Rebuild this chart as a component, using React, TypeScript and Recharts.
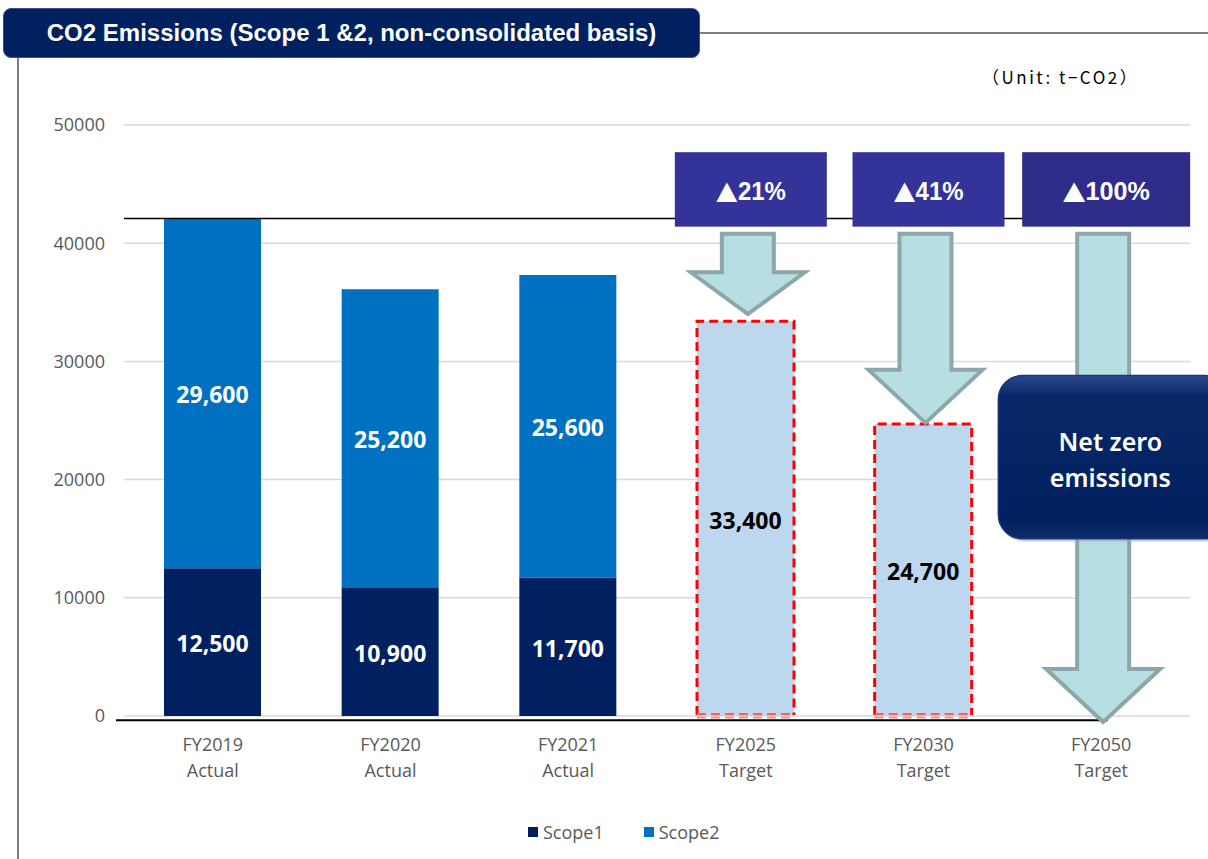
import React from 'react';
import {
  BarChart,
  Bar,
  XAxis,
  YAxis,
  CartesianGrid,
  ReferenceLine,
  ReferenceArea,
  LabelList,
} from 'recharts';

// ---------------- data ----------------
const categories = ['FY2019', 'FY2020', 'FY2021', 'FY2025', 'FY2030', 'FY2050'];
const categoryKinds = ['Actual', 'Actual', 'Actual', 'Target', 'Target', 'Target'];
const scope1Values = [12500, 10900, 11700, null, null, null];
const scope2Values = [29600, 25200, 25600, null, null, null];
const targetValues = [null, null, null, 33400, 24700, null];
const yTicks = [0, 10000, 20000, 30000, 40000, 50000];
const baselineValue = 42100;
const axisLineValue = -350;
const reductionCategories = ['FY2025', 'FY2030', 'FY2050'];
const reductionPercents = ['21%', '41%', '100%'];
const arrowStartValue = 40800;
const arrowTipValues = [34000, 24800, -500];
const tagRange = [41400, 47700];
const netZeroCategory = 'FY2050';
const netZeroRange = [15000, 28800];
const netZeroLines = ['Net zero', 'emissions'];
const seriesNames = ['Scope1', 'Scope2'];
const seriesColors = ['#002060', '#0070C0'];
const titleText = 'CO2 Emissions (Scope 1 &2, non-consolidated basis)';
const unitText = '（Unit: t−CO2）';

const data = categories.map((name, i) => ({
  name,
  kind: categoryKinds[i],
  scope1: scope1Values[i],
  scope2: scope2Values[i],
  target: targetValues[i],
}));

// ---------------- styles ----------------
const FONT = "'Open Sans', 'Noto Sans', sans-serif";
const GRAY_TEXT = '#595959';
const tagWidths = [152, 152, 168];

const fmt = (v: number) => v.toLocaleString('en-US');

const XTick = (props: any) => {
  const { x, y, payload } = props;
  const i = categories.indexOf(payload.value);
  return (
    <text x={x} y={y} textAnchor="middle" fill={GRAY_TEXT} fontSize={18} fontFamily={FONT}>
      <tspan x={x} dy={27}>{payload.value}</tspan>
      <tspan x={x} dy={26}>{categoryKinds[i]}</tspan>
    </text>
  );
};

const makeLabel = (color: string) => (props: any) => {
  const vb = props.viewBox || props;
  const x = vb.x ?? props.x;
  const y = vb.y ?? props.y;
  const w = vb.width ?? props.width;
  const h = vb.height ?? props.height;
  const v = props.value;
  if (v == null || v === 0) return null;
  return (
    <text
      x={x + w / 2}
      y={y + h / 2 + 1}
      textAnchor="middle"
      dominantBaseline="central"
      fill={color}
      fontSize={23}
      fontWeight={700}
      fontFamily={FONT}
    >
      {fmt(v)}
    </text>
  );
};

const TargetShape = (props: any) => {
  const { x, y, width, height } = props;
  if (!height || height <= 0) return null;
  const b = y + height;
  return (
    <g>
      <rect x={x} y={y} width={width} height={height} fill="#BDD7EE" />
      <path
        d={`M${x},${b - 1} V${y} H${x + width} V${b - 1}`}
        fill="none"
        stroke="#FF0000"
        strokeWidth={3}
        strokeDasharray="9 5"
      />
      <line x1={x} y1={b - 2} x2={x + width} y2={b - 2} stroke="#FF5C5C" strokeWidth={2} strokeDasharray="9 5" />
      <line x1={x} y1={b + 1.5} x2={x + width} y2={b + 1.5} stroke="#FF8F8F" strokeWidth={2} strokeDasharray="9 5" />
    </g>
  );
};

const ArrowShape = (props: any) => {
  const { x, y, width, height } = props;
  const cx = x + width / 2 + 2;
  const shaftW = 52;
  const headW = 114;
  const headH = Math.min(53, height * 0.52);
  const top = y;
  const tip = y + height;
  const neck = tip - headH;
  const d = `M${cx - shaftW / 2},${top} H${cx + shaftW / 2} V${neck} H${cx + headW / 2} L${cx},${tip} L${cx - headW / 2},${neck} H${cx - shaftW / 2} Z`;
  return <path d={d} fill="#B7DFE2" stroke="#8BA7A9" strokeWidth={4} strokeLinejoin="miter" />;
};

const TagShape = (props: any) => {
  const { x, y, width, height, pct, tagW, idx } = props;
  const cx = x + width / 2 + 5;
  const len = (pct.length + 1) * 17.5;
  return (
    <g>
      <rect x={cx - tagW / 2} y={y} width={tagW} height={height} fill={idx === 2 ? '#2E2E8A' : '#343399'} />
      <text
        x={cx}
        y={y + height / 2 + 2}
        textAnchor="middle"
        dominantBaseline="central"
        fill="#FFFFFF"
        fontSize={26}
        fontWeight={700}
        fontFamily="'Liberation Sans', sans-serif"
        textLength={len}
        lengthAdjust="spacingAndGlyphs"
      >
        <tspan fontFamily="'Noto Sans CJK JP', sans-serif" fontSize={24}>▲</tspan>
        <tspan>{pct}</tspan>
      </text>
    </g>
  );
};

const NetZeroShape = (props: any) => {
  const { x, y, height } = props;
  const bx = x - 14;
  const bw = 230;
  const cx = bx + 112;
  return (
    <g>
      <defs>
        <linearGradient id="nzGrad" x1="0" y1="0" x2="0" y2="1">
          <stop offset="0" stopColor="#2A4A8E" />
          <stop offset="0.12" stopColor="#0A2868" />
          <stop offset="0.88" stopColor="#002060" />
          <stop offset="1" stopColor="#0E2C6C" />
        </linearGradient>
      </defs>
      <rect x={bx + 2} y={y + 3} width={bw} height={height} rx={24} ry={24} fill="#9AA6BE" opacity={0.5} />
      <rect x={bx} y={y} width={bw} height={height} rx={24} ry={24} fill="url(#nzGrad)" stroke="#1A3676" strokeWidth={1.5} />
      <text
        x={cx}
        y={y + height / 2 - 16}
        textAnchor="middle"
        dominantBaseline="central"
        fill="#FFFFFF"
        fontSize={25}
        fontWeight={600}
        fontFamily="'Noto Sans', sans-serif"
      >
        {netZeroLines[0]}
      </text>
      <text
        x={cx}
        y={y + height / 2 + 20}
        textAnchor="middle"
        dominantBaseline="central"
        fill="#FFFFFF"
        fontSize={25}
        fontWeight={600}
        fontFamily="'Noto Sans', sans-serif"
      >
        {netZeroLines[1]}
      </text>
    </g>
  );
};

const AxisBaseLine = (props: any) => {
  const { x1, y1, x2, y2 } = props;
  return <line x1={x1 - 8} y1={y1} x2={x2 - 82} y2={y2} stroke="#000000" strokeWidth={2} />;
};

export default function App() {
  return (
    <div
      style={{
        position: 'absolute',
        left: 0,
        top: 0,
        width: 1208,
        height: 859,
        background: '#FFFFFF',
        overflow: 'hidden',
        fontFamily: FONT,
      }}
    >
      {/* frame lines */}
      <div style={{ position: 'absolute', left: 17, top: 56, width: 2, height: 803, background: '#7F7F7F' }} />
      <div style={{ position: 'absolute', left: 698, top: 32, width: 510, height: 2, background: '#7F7F7F' }} />
      {/* title */}
      <div
        style={{
          position: 'absolute',
          left: 3,
          top: 8,
          width: 697,
          height: 50,
          boxSizing: 'border-box',
          background: '#002060',
          border: '1.5px solid #3C4F8A',
          borderRadius: 8,
          color: '#FFFFFF',
          fontFamily: "'Liberation Sans', Arial, sans-serif",
          fontWeight: 700,
          fontSize: 24,
          lineHeight: '48px',
          textAlign: 'center',
          whiteSpace: 'nowrap',
          zIndex: 2,
        }}
      >
        {titleText}
      </div>
      {/* unit */}
      <div
        style={{
          position: 'absolute',
          left: 982,
          top: 64,
          fontFamily: "'Noto Sans CJK JP', sans-serif",
          fontSize: 17,
          letterSpacing: 2.5,
          color: '#000000',
          whiteSpace: 'nowrap',
        }}
      >
        {unitText}
      </div>

      <BarChart
        width={1208}
        height={859}
        data={data}
        margin={{ top: 125, right: 18, bottom: 103, left: 64 }}
        barSize={97}
        style={{ position: 'absolute', left: 0, top: 0 }}
      >
        <CartesianGrid vertical={false} stroke="#D9D9D9" strokeWidth={1.5} />
        <XAxis
          dataKey="name"
          height={40}
          axisLine={false}
          tickLine={false}
          tick={<XTick />}
          interval={0}
        />
        <YAxis
          width={60}
          domain={[0, 50000]}
          ticks={yTicks}
          axisLine={false}
          tickLine={false}
          tickMargin={13}
          tick={{ fill: GRAY_TEXT, fontSize: 18, fontFamily: FONT }}
        />
        <Bar dataKey="scope1" stackId="a" fill={seriesColors[0]} name={seriesNames[0]} isAnimationActive={false}>
          <LabelList dataKey="scope1" content={makeLabel('#FFFFFF')} />
        </Bar>
        <Bar dataKey="scope2" stackId="a" fill={seriesColors[1]} name={seriesNames[1]} isAnimationActive={false}>
          <LabelList dataKey="scope2" content={makeLabel('#FFFFFF')} />
        </Bar>
        <Bar dataKey="target" stackId="a" fill="#BDD7EE" shape={<TargetShape />} isAnimationActive={false}>
          <LabelList dataKey="target" content={makeLabel('#000000')} />
        </Bar>
        <ReferenceLine y={baselineValue} stroke="#000000" strokeWidth={1.5} ifOverflow="visible" zIndex={350} />
        <ReferenceLine y={axisLineValue} ifOverflow="visible" shape={<AxisBaseLine />} zIndex={350} />
        {reductionCategories.map((c, i) => (
          <ReferenceArea
            key={'arrow' + c}
            x1={c}
            x2={c}
            y1={arrowTipValues[i]}
            y2={arrowStartValue}
            ifOverflow="visible"
            shape={(p: any) => <ArrowShape {...p} />}
            zIndex={360}
          />
        ))}
        {reductionCategories.map((c, i) => (
          <ReferenceArea
            key={'tag' + c}
            x1={c}
            x2={c}
            y1={tagRange[0]}
            y2={tagRange[1]}
            ifOverflow="visible"
            shape={(p: any) => <TagShape {...p} pct={reductionPercents[i]} tagW={tagWidths[i]} idx={i} />}
            zIndex={370}
          />
        ))}
        <ReferenceArea
          x1={netZeroCategory}
          x2={netZeroCategory}
          y1={netZeroRange[0]}
          y2={netZeroRange[1]}
          ifOverflow="visible"
          shape={(p: any) => <NetZeroShape {...p} />}
          zIndex={380}
        />
      </BarChart>

      {/* legend */}
      <div
        style={{
          position: 'absolute',
          left: 528,
          top: 820,
          display: 'flex',
          alignItems: 'center',
          fontFamily: FONT,
          fontSize: 18,
          color: GRAY_TEXT,
          whiteSpace: 'nowrap',
        }}
      >
        {seriesNames.map((n, i) => (
          <div key={n} style={{ display: 'flex', alignItems: 'center', marginRight: i === 0 ? 40 : 0 }}>
            <span style={{ display: 'inline-block', width: 10, height: 10, background: seriesColors[i], marginRight: 5 }} />
            <span>{n}</span>
          </div>
        ))}
      </div>
    </div>
  );
}
